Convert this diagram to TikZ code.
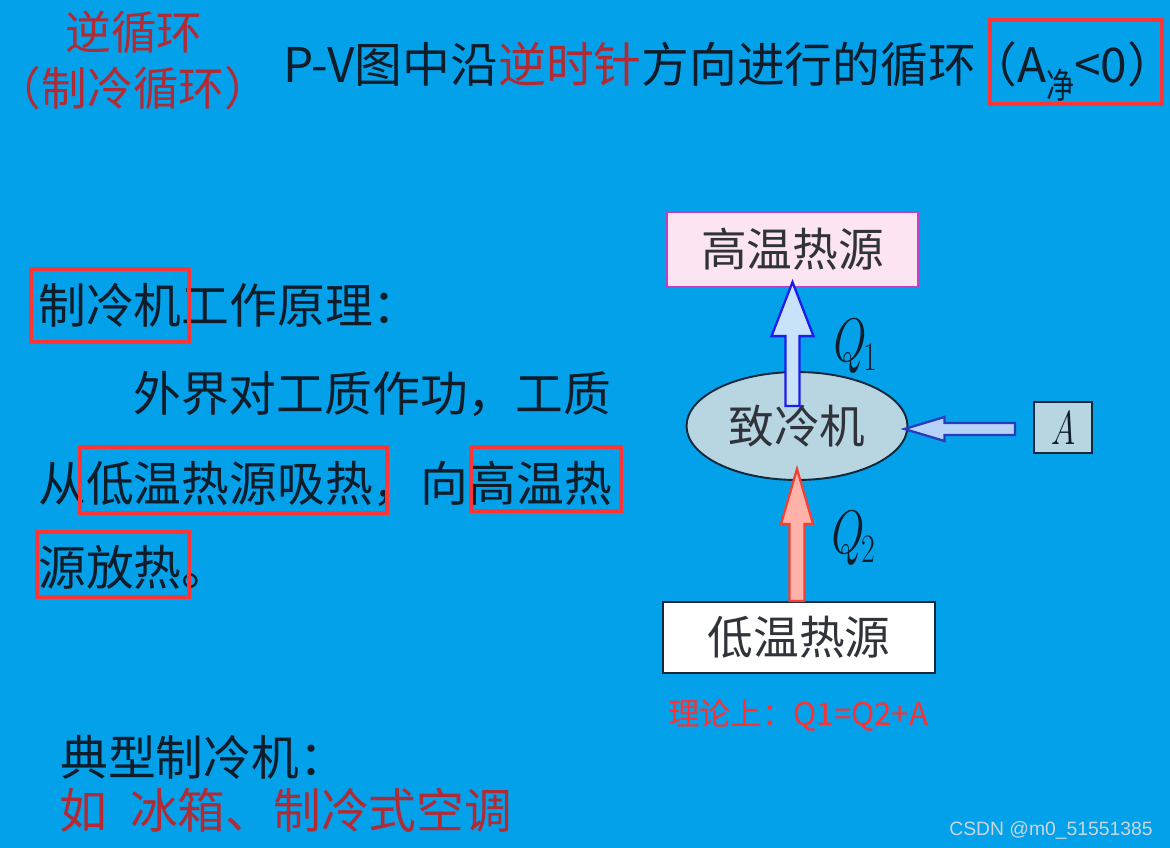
\documentclass[tikz,border=0pt]{standalone}
\usepackage{fontspec}
\newfontfamily\cjk{Noto Sans CJK SC}
\newfontfamily\cjkhalf[RawFeature=+halt]{Noto Sans CJK SC}
\newfontfamily\wmfont{Liberation Sans}
\usetikzlibrary{calc,shapes.geometric}
\definecolor{bgblue}{RGB}{3,161,233}
\definecolor{tdark}{RGB}{15,28,42}
\definecolor{tred}{RGB}{178,42,52}
\definecolor{boxred}{RGB}{255,52,52}
\definecolor{fred}{RGB}{255,48,48}
\definecolor{lgray}{RGB}{48,52,58}
\definecolor{pinkfill}{RGB}{252,228,242}
\definecolor{pinkline}{RGB}{190,64,196}
\definecolor{engfill}{RGB}{184,214,226}
\definecolor{engline}{RGB}{20,40,60}
\definecolor{qoneFill}{RGB}{200,226,250}
\definecolor{qoneLine}{RGB}{28,28,235}
\definecolor{qtwoFill}{RGB}{255,178,168}
\definecolor{qtwoLine}{RGB}{240,66,52}
\definecolor{aFill}{RGB}{182,210,246}
\definecolor{aLine}{RGB}{40,60,190}
\definecolor{wmgray}{RGB}{200,214,224}
\newcommand\bigcjk{\cjk\fontsize{27.2pt}{32pt}\selectfont}
\newcommand\headcjk{\cjk\fontsize{26pt}{31pt}\selectfont}
\newcommand\labcjk{\cjk\fontsize{26pt}{31pt}\selectfont}
\newcommand\lpar{{\cjkhalf （}}
\newcommand\rpar{{\cjkhalf ）}}
\newcommand\qsym[1]{\scalebox{0.74}[1]{\itshape Q\raisebox{-5pt}{\upshape\fontsize{23pt}{25pt}\selectfont #1}}}
\tikzset{
  body/.style={anchor=base west, inner sep=0pt, font=\bigcjk, text=tdark},
  redbox/.style={draw=boxred, line width=2.8pt},
  hotbox/.style={draw=pinkline, fill=pinkfill, line width=1.3pt, minimum width=5.02cm, minimum height=1.5cm, inner sep=0pt, font=\labcjk, text=lgray},
  coldbox/.style={draw=engline, fill=white, line width=1.1pt, minimum width=5.44cm, minimum height=1.42cm, inner sep=0pt, font=\labcjk, text=lgray},
  engine/.style={ellipse, draw=engline, fill=engfill, line width=1.1pt, minimum width=4.42cm, minimum height=2.16cm, inner sep=0pt, font=\labcjk, text=lgray},
  abox/.style={draw=engline, fill=engfill, line width=1.1pt, minimum width=1.16cm, minimum height=1.02cm, inner sep=0pt, font=\fontsize{27pt}{30pt}\selectfont, text=tdark},
  qlab/.style={inner sep=0pt, font=\fontsize{35pt}{39pt}\selectfont, text=tdark},
  qonearrow/.style={draw=qoneLine, fill=qoneFill, line width=1.3pt, line join=miter},
  qtwoarrow/.style={draw=qtwoLine, fill=qtwoFill, line width=1.3pt, line join=miter},
  aarrow/.style={draw=aLine, fill=aFill, line width=1.3pt, line join=miter}
}
\begin{document}
\begin{tikzpicture}[x=0.02cm,y=-0.02cm]
\useasboundingbox (0,0) rectangle (1170,848);
\fill[bgblue] (0,0) rectangle (1170,848);

% headings
\node[anchor=base, inner sep=0pt, font=\headcjk, text=tred] (h1) at (134,50) {逆循环};
\node[anchor=base, inner sep=0pt, font=\headcjk, text=tred] (h2) at (133,106) {\lpar 制冷循环\rpar};
\node[body] (title) at (283,83) {P-V图中沿\textcolor{tred}{逆时针}方向进行的循环};
\node[body] (cond) at (993,83) {\lpar A\raisebox{-9pt}{\scalebox{0.8}[1]{\cjk\fontsize{20pt}{22pt}\selectfont 净}}<0\rpar};
\draw[redbox] (990,20) rectangle (1162,104);

% left text
\node[body] (l1) at (38,323) {制冷机工作原理：};
\node[body] (l2) at (133,411) {外界对工质作功，工质};
\node[body] (l3) at (38,501) {从低温热源吸热，向高温热};
\node[body] (l4) at (38,585) {源放热。};
\draw[redbox] (31,269) rectangle (189,342);
\draw[redbox] (80,447) rectangle (387,513);
\draw[redbox] (471,447) rectangle (621,511);
\draw[redbox] (37,532) rectangle (189,597);

% bottom text
\node[body] (t1) at (60,775) {典型制冷机：};
\node[body, text=tred] (t2) at (59,828) {如\hspace{0.48em}冰箱、制冷式空调};

% diagram
\node[hotbox] (hot) at (792.5,249.5) {高温热源};
\node[engine] (eng) at (797,426) {致冷机};
\node[abox] (Abox) at (1063,427.5) {\scalebox{0.75}[1]{\itshape A}};
\node[coldbox] (cold) at (799,637.5) {低温热源};

% Q1 arrow: engine -> hot
\coordinate (q1t) at ($(hot.south)+(0,-6)$);
\path (q1t |- eng.north) ++(0,35) coordinate (q1b);
\draw[qonearrow] ($(q1b)+(-7,0)$) -- ($(q1t)+(-7,54)$) -- ($(q1t)+(-21,54)$) -- (q1t)
  -- ($(q1t)+(21,54)$) -- ($(q1t)+(7,54)$) -- ($(q1b)+(7,0)$) -- cycle;

% Q2 arrow: cold -> engine
\coordinate (q2t) at ($(eng.south)+(0,-12)$);
\coordinate (q2b) at (q2t |- cold.north);
\draw[qtwoarrow] ($(q2b)+(-7.5,0)$) -- ($(q2t)+(-7.5,55)$) -- ($(q2t)+(-16,55)$) -- (q2t)
  -- ($(q2t)+(16,55)$) -- ($(q2t)+(7.5,55)$) -- ($(q2b)+(7.5,0)$) -- cycle;

% A arrow: A -> engine
\coordinate (at) at ($(eng.east)+(-4,3)$);
\path (at -| Abox.west) ++(-18,0) coordinate (ab);
\draw[aarrow] ($(ab)+(0,-6)$) -- ($(at)+(40,-6)$) -- ($(at)+(40,-12)$) -- (at)
  -- ($(at)+(40,12)$) -- ($(at)+(40,6)$) -- ($(ab)+(0,6)$) -- cycle;

\node[qlab] (q1) at (853,346) {\qsym{1}};
\node[qlab] (q2) at (851,538) {\qsym{2}};

\node[anchor=base west, inner sep=0pt, font=\cjk\fontsize{17.8pt}{20pt}\selectfont, text=fred] (eq) at (668,725) {理论上：Q1=Q2+A};

\node[anchor=base east, inner sep=0pt, font=\wmfont\fontsize{11pt}{13pt}\selectfont, text=wmgray] (wm) at (1153,835) {CSDN @m0\_51551385};
\end{tikzpicture}
\end{document}
